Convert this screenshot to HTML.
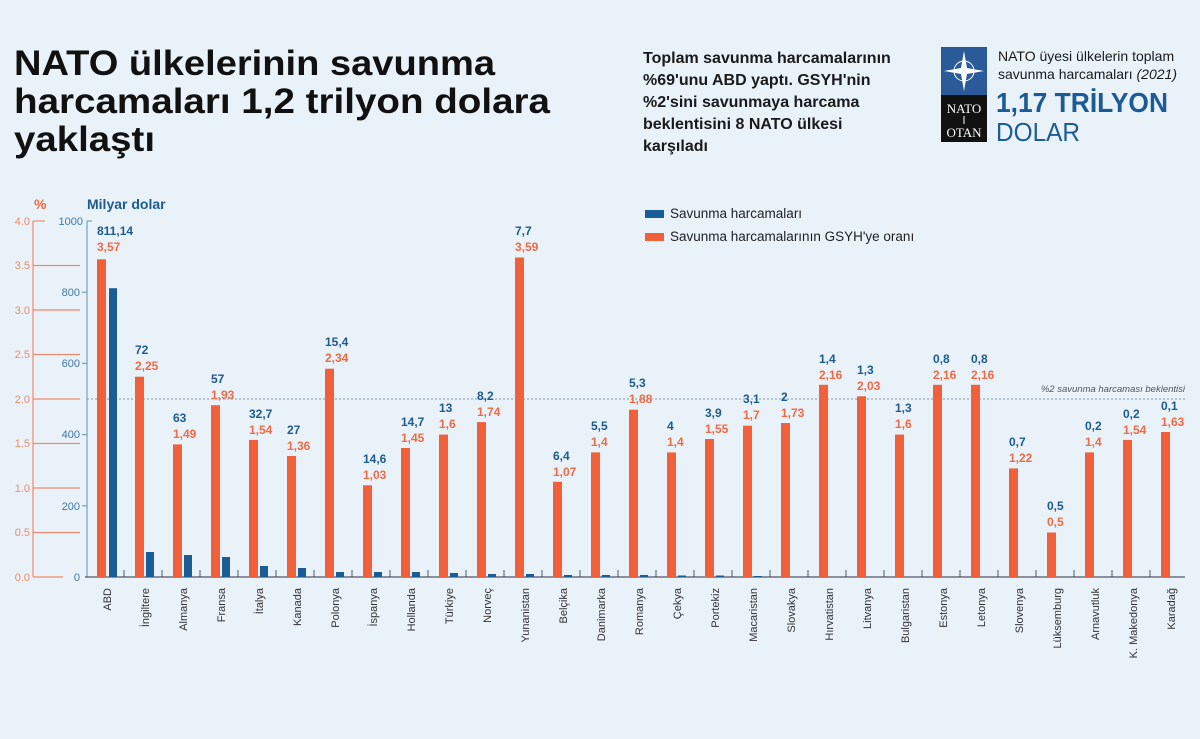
<!DOCTYPE html>
<html><head><meta charset="utf-8"><style>
html,body{margin:0;padding:0;background:#e9f2f9;}
svg{display:block;font-family:"Liberation Sans",sans-serif;}
.t{font-weight:bold;font-size:35px;fill:#111;}
.r{font-weight:bold;font-size:16px;fill:#1a1a1a;}
.bl{fill:#1d5b8e;font-weight:bold;font-size:12px;}
.ol{fill:#ef6a45;font-weight:bold;font-size:12px;}
.ax{fill:#ee8a6c;font-size:11px;}
.ax2{fill:#3f78a6;font-size:11px;}
.c{font-size:11px;fill:#333;}
.o{fill:#f0603a;} .b{fill:#1a5c96;}
</style></head><body>
<svg width="1200" height="739" viewBox="0 0 1200 739" xmlns="http://www.w3.org/2000/svg">
<rect width="1200" height="739" fill="#e9f2f9"/>
<text class="t" x="14" y="75" textLength="481" lengthAdjust="spacingAndGlyphs">NATO ülkelerinin savunma</text>
<text class="t" x="14" y="113" textLength="536" lengthAdjust="spacingAndGlyphs">harcamaları 1,2 trilyon dolara</text>
<text class="t" x="14" y="151" textLength="141" lengthAdjust="spacingAndGlyphs">yaklaştı</text>
<text class="r" x="643" y="63">Toplam savunma harcamalarının</text>
<text class="r" x="643" y="85">%69'unu ABD yaptı. GSYH'nin</text>
<text class="r" x="643" y="107">%2'sini savunmaya harcama</text>
<text class="r" x="643" y="129">beklentisini 8 NATO ülkesi</text>
<text class="r" x="643" y="151">karşıladı</text>
<!-- logo -->
<rect x="941" y="47" width="46" height="48" fill="#2a5a98"/>
<g transform="translate(964,71)" fill="#fff">
<circle r="10" fill="none" stroke="#fff" stroke-width="1"/>
<polygon points="0,-20 3,-3 0,0 -3,-3"/><polygon points="20,0 3,3 0,0 3,-3"/>
<polygon points="0,20 -3,3 0,0 3,3"/><polygon points="-20,0 -3,-3 0,0 -3,3"/>
</g>
<rect x="941" y="95" width="46" height="47" fill="#111"/>
<text x="964" y="113" fill="#fff" font-family="Liberation Serif" font-size="13" text-anchor="middle">NATO</text>
<line x1="964" y1="116" x2="964" y2="124" stroke="#fff"/>
<text x="964" y="137" fill="#fff" font-family="Liberation Serif" font-size="13" text-anchor="middle">OTAN</text>
<text x="998" y="61" font-size="14" fill="#1a1a1a">NATO üyesi ülkelerin toplam</text>
<text x="998" y="79" font-size="14" fill="#1a1a1a">savunma harcamaları <tspan font-style="italic">(2021)</tspan></text>
<text x="996" y="112" font-size="28" font-weight="bold" fill="#1d5b96" textLength="172" lengthAdjust="spacingAndGlyphs">1,17 TRİLYON</text>
<text x="996" y="141" font-size="26" fill="#1d5b96" textLength="84" lengthAdjust="spacingAndGlyphs">DOLAR</text>
<!-- legend -->
<rect x="645" y="210" width="19" height="8" class="b"/>
<text x="670" y="218" font-size="13.5" fill="#222">Savunma harcamaları</text>
<rect x="645" y="233" width="19" height="8" class="o"/>
<text x="670" y="241" font-size="13.5" fill="#222">Savunma harcamalarının GSYH'ye oranı</text>
<!-- axes -->
<text x="34" y="209" font-size="14" font-weight="bold" fill="#ef6a45">%</text>
<text x="87" y="209" font-size="14" font-weight="bold" fill="#1d5b8e">Milyar dolar</text>
<g stroke="#ee8a6c" stroke-width="1.2">
<line x1="33" y1="221" x2="33" y2="577"/>
<line x1="33" y1="221" x2="45" y2="221"/>
<line x1="33" y1="265.5" x2="80" y2="265.5"/><line x1="33" y1="310" x2="80" y2="310"/>
<line x1="33" y1="354.5" x2="80" y2="354.5"/><line x1="33" y1="399" x2="80" y2="399"/>
<line x1="33" y1="443.5" x2="80" y2="443.5"/><line x1="33" y1="488" x2="80" y2="488"/>
<line x1="33" y1="532.5" x2="80" y2="532.5"/><line x1="33" y1="577" x2="63" y2="577"/>
</g>
<g class="ax" text-anchor="end">
<text x="30" y="225">4.0</text><text x="30" y="269">3.5</text><text x="30" y="314">3.0</text>
<text x="30" y="358">2.5</text><text x="30" y="403">2.0</text><text x="30" y="447">1.5</text>
<text x="30" y="492">1.0</text><text x="30" y="536">0.5</text><text x="30" y="581">0.0</text>
</g>
<g stroke="#7a9fbd" stroke-width="1.2">
<line x1="87" y1="221" x2="87" y2="577"/>
<line x1="87" y1="221" x2="92" y2="221"/><line x1="82" y1="292.2" x2="87" y2="292.2"/>
<line x1="82" y1="363.4" x2="87" y2="363.4"/><line x1="82" y1="434.6" x2="87" y2="434.6"/>
<line x1="82" y1="505.8" x2="87" y2="505.8"/>
<line x1="85" y1="577" x2="1185" y2="577" stroke="#556"/>
</g>
<g class="ax2" text-anchor="end">
<text x="83" y="225">1000</text><text x="80" y="296">800</text><text x="80" y="367">600</text>
<text x="80" y="438">400</text><text x="80" y="510">200</text><text x="80" y="581">0</text>
</g>
<line x1="87" y1="399" x2="1185" y2="399" stroke="#8899aa" stroke-dasharray="2,2"/>
<text x="1185" y="392" font-size="9.5" font-style="italic" fill="#555" text-anchor="end">%2 savunma harcaması beklentisi</text>
<g stroke="#556">
<line x1="124" y1="570" x2="124" y2="577"/><line x1="162" y1="570" x2="162" y2="577"/><line x1="200" y1="570" x2="200" y2="577"/><line x1="238" y1="570" x2="238" y2="577"/><line x1="276" y1="570" x2="276" y2="577"/><line x1="314" y1="570" x2="314" y2="577"/><line x1="352" y1="570" x2="352" y2="577"/><line x1="390" y1="570" x2="390" y2="577"/><line x1="428" y1="570" x2="428" y2="577"/><line x1="466" y1="570" x2="466" y2="577"/><line x1="504" y1="570" x2="504" y2="577"/><line x1="542" y1="570" x2="542" y2="577"/><line x1="580" y1="570" x2="580" y2="577"/><line x1="618" y1="570" x2="618" y2="577"/><line x1="656" y1="570" x2="656" y2="577"/><line x1="694" y1="570" x2="694" y2="577"/><line x1="732" y1="570" x2="732" y2="577"/><line x1="770" y1="570" x2="770" y2="577"/><line x1="808" y1="570" x2="808" y2="577"/><line x1="846" y1="570" x2="846" y2="577"/><line x1="884" y1="570" x2="884" y2="577"/><line x1="922" y1="570" x2="922" y2="577"/><line x1="960" y1="570" x2="960" y2="577"/><line x1="998" y1="570" x2="998" y2="577"/><line x1="1036" y1="570" x2="1036" y2="577"/><line x1="1074" y1="570" x2="1074" y2="577"/><line x1="1112" y1="570" x2="1112" y2="577"/><line x1="1150" y1="570" x2="1150" y2="577"/>
</g>
<!-- orange bars -->
<g class="o">
<rect x="97" y="259.3" width="9" height="317.7"/><rect x="135" y="376.7" width="9" height="200.3"/>
<rect x="173" y="444.4" width="9" height="132.6"/><rect x="211" y="405.2" width="9" height="171.8"/>
<rect x="249" y="439.9" width="9" height="137.1"/><rect x="287" y="456" width="9" height="121"/>
<rect x="325" y="368.7" width="9" height="208.3"/><rect x="363" y="485.3" width="9" height="91.7"/>
<rect x="401" y="448" width="9" height="129"/><rect x="439" y="434.6" width="9" height="142.4"/>
<rect x="477" y="422.1" width="9" height="154.9"/><rect x="515" y="257.5" width="9" height="319.5"/>
<rect x="553" y="481.8" width="9" height="95.2"/><rect x="591" y="452.4" width="9" height="124.6"/>
<rect x="629" y="409.7" width="9" height="167.3"/><rect x="667" y="452.4" width="9" height="124.6"/>
<rect x="705" y="439" width="9" height="138"/><rect x="743" y="425.7" width="9" height="151.3"/>
<rect x="781" y="423" width="9" height="154"/><rect x="819" y="384.8" width="9" height="192.2"/>
<rect x="857" y="396.3" width="9" height="180.7"/><rect x="895" y="434.6" width="9" height="142.4"/>
<rect x="933" y="384.8" width="9" height="192.2"/><rect x="971" y="384.8" width="9" height="192.2"/>
<rect x="1009" y="468.4" width="9" height="108.6"/><rect x="1047" y="532.5" width="9" height="44.5"/>
<rect x="1085" y="452.4" width="9" height="124.6"/><rect x="1123" y="439.9" width="9" height="137.1"/>
<rect x="1161" y="432" width="9" height="145"/>
</g>
<!-- blue bars -->
<g class="b">
<rect x="109" y="288.2" width="8" height="288.8"/><rect x="146" y="552" width="8" height="25"/>
<rect x="184" y="555" width="8" height="22"/><rect x="222" y="557" width="8" height="20"/>
<rect x="260" y="566" width="8" height="11"/><rect x="298" y="568" width="8" height="9"/>
<rect x="336" y="572" width="8" height="5"/><rect x="374" y="572" width="8" height="5"/>
<rect x="412" y="572" width="8" height="5"/><rect x="450" y="573" width="8" height="4"/>
<rect x="488" y="574" width="8" height="3"/><rect x="526" y="574" width="8" height="3"/>
<rect x="564" y="575" width="8" height="2"/><rect x="602" y="575" width="8" height="2"/>
<rect x="640" y="575" width="8" height="2"/><rect x="678" y="575.5" width="8" height="1.5"/>
<rect x="716" y="575.5" width="8" height="1.5"/><rect x="754" y="576" width="8" height="1"/>
</g>
<!-- value labels -->
<g class="bl">
<text x="97" y="235">811,14</text><text x="135" y="354">72</text><text x="173" y="422">63</text>
<text x="211" y="383">57</text><text x="249" y="418">32,7</text><text x="287" y="434">27</text>
<text x="325" y="346">15,4</text><text x="363" y="463">14,6</text><text x="401" y="426">14,7</text>
<text x="439" y="412">13</text><text x="477" y="400">8,2</text><text x="515" y="235">7,7</text>
<text x="553" y="460">6,4</text><text x="591" y="430">5,5</text><text x="629" y="387">5,3</text>
<text x="667" y="430">4</text><text x="705" y="417">3,9</text><text x="743" y="403">3,1</text>
<text x="781" y="401">2</text><text x="819" y="363">1,4</text><text x="857" y="374">1,3</text>
<text x="895" y="412">1,3</text><text x="933" y="363">0,8</text><text x="971" y="363">0,8</text>
<text x="1009" y="446">0,7</text><text x="1047" y="510">0,5</text><text x="1085" y="430">0,2</text>
<text x="1123" y="418">0,2</text><text x="1161" y="410">0,1</text>
</g>
<g class="ol">
<text x="97" y="251">3,57</text><text x="135" y="370">2,25</text><text x="173" y="438">1,49</text>
<text x="211" y="399">1,93</text><text x="249" y="434">1,54</text><text x="287" y="450">1,36</text>
<text x="325" y="362">2,34</text><text x="363" y="479">1,03</text><text x="401" y="442">1,45</text>
<text x="439" y="428">1,6</text><text x="477" y="416">1,74</text><text x="515" y="251">3,59</text>
<text x="553" y="476">1,07</text><text x="591" y="446">1,4</text><text x="629" y="403">1,88</text>
<text x="667" y="446">1,4</text><text x="705" y="433">1,55</text><text x="743" y="419">1,7</text>
<text x="781" y="417">1,73</text><text x="819" y="379">2,16</text><text x="857" y="390">2,03</text>
<text x="895" y="428">1,6</text><text x="933" y="379">2,16</text><text x="971" y="379">2,16</text>
<text x="1009" y="462">1,22</text><text x="1047" y="526">0,5</text><text x="1085" y="446">1,4</text>
<text x="1123" y="434">1,54</text><text x="1161" y="426">1,63</text>
</g>
<!-- country labels -->
<g class="c" text-anchor="end">
<text transform="translate(111,588) rotate(-90)">ABD</text>
<text transform="translate(149,588) rotate(-90)">İngiltere</text>
<text transform="translate(187,588) rotate(-90)">Almanya</text>
<text transform="translate(225,588) rotate(-90)">Fransa</text>
<text transform="translate(263,588) rotate(-90)">İtalya</text>
<text transform="translate(301,588) rotate(-90)">Kanada</text>
<text transform="translate(339,588) rotate(-90)">Polonya</text>
<text transform="translate(377,588) rotate(-90)">İspanya</text>
<text transform="translate(415,588) rotate(-90)">Hollanda</text>
<text transform="translate(453,588) rotate(-90)">Türkiye</text>
<text transform="translate(491,588) rotate(-90)">Norveç</text>
<text transform="translate(529,588) rotate(-90)">Yunanistan</text>
<text transform="translate(567,588) rotate(-90)">Belçika</text>
<text transform="translate(605,588) rotate(-90)">Danimarka</text>
<text transform="translate(643,588) rotate(-90)">Romanya</text>
<text transform="translate(681,588) rotate(-90)">Çekya</text>
<text transform="translate(719,588) rotate(-90)">Portekiz</text>
<text transform="translate(757,588) rotate(-90)">Macaristan</text>
<text transform="translate(795,588) rotate(-90)">Slovakya</text>
<text transform="translate(833,588) rotate(-90)">Hırvatistan</text>
<text transform="translate(871,588) rotate(-90)">Litvanya</text>
<text transform="translate(909,588) rotate(-90)">Bulgaristan</text>
<text transform="translate(947,588) rotate(-90)">Estonya</text>
<text transform="translate(985,588) rotate(-90)">Letonya</text>
<text transform="translate(1023,588) rotate(-90)">Slovenya</text>
<text transform="translate(1061,588) rotate(-90)">Lüksemburg</text>
<text transform="translate(1099,588) rotate(-90)">Arnavutluk</text>
<text transform="translate(1137,588) rotate(-90)">K. Makedonya</text>
<text transform="translate(1175,588) rotate(-90)">Karadağ</text>
</g>
</svg>
</body></html>
